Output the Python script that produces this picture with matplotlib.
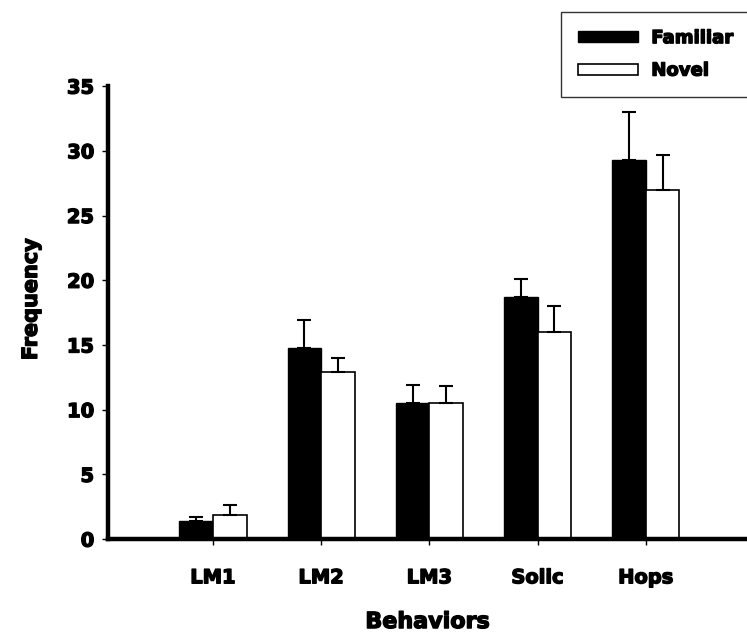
import numpy as np
import matplotlib
matplotlib.use("Agg")
import matplotlib.pyplot as plt
import matplotlib.patheffects as pe

# Behaviour counts, familiar vs novel partner
behaviors = ["LM1", "LM2", "LM3", "Solic", "Hops"]
familiar = [1.4, 14.8, 10.5, 18.7, 29.3]
familiar_err = [0.3, 2.1, 1.4, 1.4, 3.7]
novel = [1.9, 12.9, 10.5, 16.0, 27.0]
novel_err = [0.7, 1.1, 1.3, 2.0, 2.7]

plt.rcParams['font.family'] = ['DejaVu Sans']
plt.rcParams['font.weight'] = 'bold'

# thicken glyphs a bit so the labels read as a heavy face
heavy = [pe.withStroke(linewidth=1.0, foreground='black')]

fig = plt.figure(figsize=(7.47, 6.35), dpi=100)
ax = fig.add_axes([0.1446, 0.151, 0.856, 0.7134])

x = np.arange(len(behaviors))
w = 0.31
ax.bar(x - w / 2, familiar, w, color='black', edgecolor='black', linewidth=1,
       yerr=[np.zeros(len(familiar)), familiar_err], capsize=5,
       error_kw=dict(ecolor='black', elinewidth=1.5, capthick=1.5),
       label='Familiar')
ax.bar(x + w / 2, novel, w, color='white', edgecolor='black', linewidth=1.2,
       yerr=[np.zeros(len(novel)), novel_err], capsize=5,
       error_kw=dict(ecolor='black', elinewidth=1.5, capthick=1.5),
       label='Novel')

ax.set_xlim(-0.97, 4.94)
ax.set_ylim(0, 35)
ax.set_yticks(range(0, 36, 5))
ax.set_xticks(x)
ax.set_xticklabels(behaviors)

for s in ['top', 'right']:
    ax.spines[s].set_visible(False)
for s in ['left', 'bottom']:
    ax.spines[s].set_linewidth(3.2)

ax.tick_params(axis='y', direction='out', length=4, width=1, labelsize=14, pad=6)
ax.tick_params(axis='x', direction='out', length=4, width=1, labelsize=14, pad=17)
for lbl in ax.get_xticklabels() + ax.get_yticklabels():
    lbl.set_fontweight('heavy')
    lbl.set_path_effects(heavy)

ax.set_ylabel('Frequency', fontsize=15, fontweight='heavy', path_effects=heavy)
ax.yaxis.set_label_coords(-0.105, 0.53)
ax.set_xlabel('Behaviors', fontsize=16, fontweight='heavy', path_effects=heavy)
ax.xaxis.set_label_coords(0.5, -0.161)

leg = fig.legend(loc='upper left', bbox_to_anchor=(561 / 747, 1 - 12 / 635),
                 fontsize=13, frameon=True, fancybox=False, edgecolor='black',
                 handlelength=3.3, handleheight=0.55, borderpad=0.95,
                 labelspacing=0.8, handletextpad=0.75, borderaxespad=0)
leg.get_frame().set_linewidth(1)
for t in leg.get_texts():
    t.set_fontweight('heavy')
    t.set_path_effects(heavy)

fig.savefig('out.png', dpi=100)
